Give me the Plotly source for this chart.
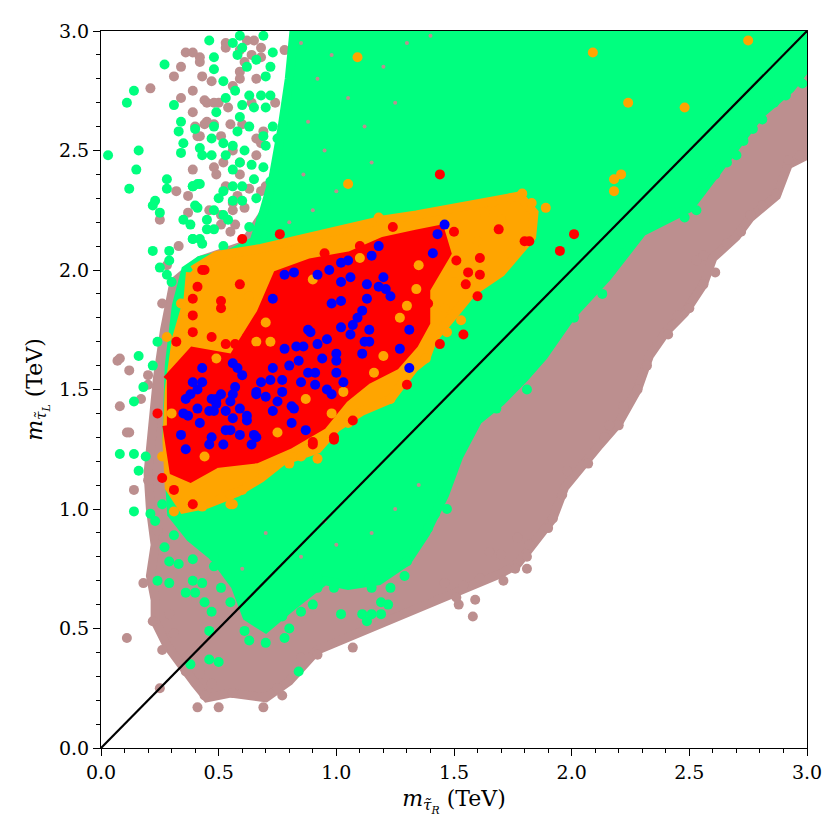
import plotly.graph_objects as go

# colours of the scan categories
BROWN = "#BC8F8F"
GREEN = "#00FF7F"
ORANGE = "#FFA500"
RED = "#FF0000"
BLUE = "#0000FF"

# dense parts of each point cloud, outlined (m_tauR, m_tauL) in TeV
brown_area = [(0.86, 3.0), (3.0, 3.0), (3.0, 2.48), (2.92, 2.44), (2.87, 2.31), (2.76, 2.22),
              (2.70, 2.14), (2.60, 2.05), (2.56, 1.94), (2.48, 1.82), (2.40, 1.74), (2.33, 1.64),
              (2.28, 1.50), (2.20, 1.36), (2.12, 1.27), (2.05, 1.18), (1.97, 1.09), (1.92, 0.96),
              (1.83, 0.84), (1.77, 0.77), (1.70, 0.73), (1.60, 0.69), (1.50, 0.65), (1.35, 0.58),
              (1.20, 0.52), (1.05, 0.46), (0.92, 0.41), (0.80, 0.28), (0.70, 0.21), (0.55, 0.23),
              (0.45, 0.21), (0.40, 0.27), (0.35, 0.34), (0.28, 0.43), (0.23, 0.53), (0.23, 0.62),
              (0.21, 0.72), (0.23, 0.85), (0.21, 1.00), (0.20, 1.15), (0.22, 1.35), (0.24, 1.55),
              (0.27, 1.75), (0.31, 1.95), (0.42, 2.04), (0.60, 2.10), (0.70, 2.25), (0.76, 2.5),
              (0.80, 2.75), (0.86, 3.0)]
green_area = [(0.82, 3.0), (3.0, 3.0), (3.0, 2.85), (2.93, 2.76), (2.80, 2.65), (2.65, 2.46),
              (2.50, 2.26), (2.30, 2.16), (2.15, 1.97), (2.00, 1.81), (1.88, 1.64), (1.80, 1.55),
              (1.70, 1.45), (1.60, 1.37), (1.52, 1.22), (1.46, 1.06), (1.38, 0.90), (1.30, 0.78),
              (1.18, 0.70), (1.05, 0.68), (0.95, 0.70), (0.82, 0.60), (0.70, 0.50), (0.62, 0.55),
              (0.57, 0.68), (0.48, 0.80), (0.38, 0.88), (0.30, 0.98), (0.28, 1.30), (0.29, 1.60),
              (0.32, 1.85), (0.36, 2.00), (0.42, 2.04), (0.55, 2.07), (0.65, 2.12), (0.69, 2.24),
              (0.73, 2.38), (0.77, 2.60), (0.80, 2.80), (0.82, 3.0)]
orange_area = [(0.39, 2.00), (0.49, 2.06), (0.68, 2.09), (0.85, 2.13), (1.00, 2.16), (1.20, 2.21),
               (1.34, 2.23), (1.45, 2.25), (1.62, 2.28), (1.71, 2.30), (1.78, 2.31), (1.84, 2.24),
               (1.83, 2.14), (1.70, 1.99), (1.58, 1.91), (1.48, 1.79), (1.41, 1.71), (1.38, 1.63),
               (1.33, 1.59), (1.23, 1.46), (1.11, 1.41), (1.00, 1.34), (0.92, 1.25), (0.77, 1.20),
               (0.68, 1.13), (0.58, 1.07), (0.45, 1.02), (0.35, 1.00), (0.29, 1.09), (0.28, 1.29),
               (0.29, 1.50), (0.32, 1.71), (0.37, 1.88), (0.38, 1.99)]
red_area = [(0.28, 1.54), (0.39, 1.66), (0.56, 1.63), (0.68, 1.82), (0.75, 1.98), (0.89, 2.03),
            (1.06, 2.06), (1.20, 2.12), (1.34, 2.15), (1.44, 2.17), (1.47, 2.07), (1.42, 1.99),
            (1.38, 1.92), (1.38, 1.78), (1.33, 1.69), (1.25, 1.60), (1.13, 1.54), (1.03, 1.46),
            (0.94, 1.35), (0.80, 1.27), (0.66, 1.21), (0.49, 1.19), (0.38, 1.13), (0.31, 1.16),
            (0.28, 1.35)]

# isolated points around the clouds
brown_pts = [(0.31, 2.81), (0.34, 2.85), (0.21, 2.76), (0.39, 2.75), (0.39, 2.66), (0.36, 2.91),
             (0.42, 2.89), (0.47, 2.79), (0.45, 2.70), (0.50, 2.70), (0.48, 2.61), (0.45, 2.62),
             (0.51, 2.56), (0.42, 2.56), (0.39, 2.42), (0.48, 2.43), (0.32, 2.33), (0.37, 2.31),
             (0.37, 2.24), (0.46, 2.25), (0.25, 2.21), (0.51, 2.23), (0.56, 2.28), (0.31, 1.84),
             (0.26, 1.86), (0.29, 1.75), (0.32, 1.82), (0.31, 1.91), (0.36, 1.87), (0.07, 1.62),
             (0.08, 1.63), (0.12, 1.58), (0.20, 1.56), (0.08, 1.43), (0.17, 1.46), (0.20, 1.52),
             (0.34, 2.72), (0.59, 2.92), (0.53, 2.95), (0.65, 2.96), (0.68, 2.89), (0.59, 2.83),
             (0.56, 2.77), (0.64, 2.70), (0.60, 2.61), (0.69, 2.58), (0.56, 2.50), (0.59, 2.45),
             (0.68, 2.53), (0.68, 2.33), (0.73, 2.36), (0.76, 2.28), (0.77, 2.46),
             (0.39, 2.91), (0.42, 2.87), (0.62, 2.96), (0.53, 2.93), (0.64, 2.90), (0.68, 2.93),
             (0.61, 2.87), (0.43, 2.81), (0.59, 2.80), (0.66, 2.80), (0.44, 2.71), (0.48, 2.70),
             (0.54, 2.68), (0.55, 2.61), (0.40, 2.60), (0.44, 2.61), (0.41, 2.56), (0.66, 2.55),
             (0.52, 2.45), (0.49, 2.40), (0.59, 2.40), (0.66, 2.48), (0.76, 2.46), (0.53, 2.35),
             (0.63, 2.34), (0.70, 2.35), (0.58, 2.31), (0.61, 2.26), (0.56, 2.25), (0.51, 2.19),
             (0.57, 2.19), (0.55, 2.16), (0.62, 2.13), (0.64, 2.08), (0.60, 2.05), (0.80, 2.35),
             (0.80, 2.59), (0.74, 2.70), (0.78, 2.92), (0.75, 2.20), (0.28, 2.02), (0.33, 2.10),
             (0.11, 0.46), (0.11, 1.32), (0.14, 1.08), (0.18, 0.69), (0.25, 0.25), (1.07, 0.42),
             (0.92, 0.39), (0.85, 0.38), (0.77, 0.22), (0.69, 0.17), (0.50, 0.17), (0.41, 0.17),
             (0.44, 0.22), (0.56, 0.23), (0.47, 0.27), (0.75, 0.25), (0.42, 0.31), (0.36, 0.32),
             (0.35, 0.35), (0.42, 0.39), (0.31, 0.48), (0.22, 0.53), (0.26, 0.41), (0.29, 0.56),
             (0.24, 0.91), (0.24, 0.97), (0.23, 1.12), (0.20, 1.12), (0.12, 1.32),
             (1.58, 0.55), (1.52, 0.60), (1.51, 0.63), (1.59, 0.62), (1.54, 0.68), (1.46, 0.69),
             (1.61, 0.71), (1.71, 0.70), (1.81, 0.75), (1.76, 0.75), (1.81, 0.80), (1.82, 0.85),
             (1.90, 0.92), (1.92, 0.96), (1.96, 1.06), (1.98, 1.16), (2.07, 1.19), (2.14, 1.30),
             (2.20, 1.35), (2.16, 1.35), (1.77, 0.88), (1.70, 0.81), (1.65, 0.82),
             (2.97, 2.48), (2.92, 2.46), (2.87, 2.32), (2.81, 2.27), (2.76, 2.23), (2.72, 2.16),
             (2.61, 1.99), (2.56, 1.94), (2.50, 1.84), (2.45, 1.81), (2.41, 1.73), (2.32, 1.60),
             (2.28, 1.50), (2.22, 1.43), (2.66, 2.11), (2.56, 2.06), (2.53, 2.04)]
# brown specks inside the dense green area
brown_specks = [(0.85, 2.95), (0.92, 2.80), (0.88, 2.62), (0.98, 2.90), (1.05, 2.72), (0.95, 2.50),
                (1.12, 2.60), (0.86, 2.40), (1.00, 2.33), (1.20, 2.85), (1.30, 2.95), (0.90, 2.25),
                (1.15, 2.45), (1.25, 2.70), (0.80, 2.20), (1.40, 2.98), (0.70, 0.90), (0.85, 0.80),
                (1.00, 0.85), (1.15, 0.90), (1.25, 1.00), (0.60, 0.75), (1.35, 1.10), (0.95, 0.95)]
green_pts = [(0.03, 2.48), (0.11, 2.70), (0.14, 2.75), (0.27, 2.86), (0.16, 2.50), (0.15, 2.42),
             (0.12, 2.34), (0.28, 2.38), (0.28, 2.34), (0.23, 2.29), (0.22, 2.27), (0.25, 2.24),
             (0.31, 2.69), (0.34, 2.62), (0.33, 2.58), (0.35, 2.53), (0.34, 2.49), (0.39, 2.35),
             (0.42, 2.36), (0.41, 2.26), (0.35, 2.21), (0.38, 2.19), (0.39, 2.13), (0.22, 2.08),
             (0.29, 2.08), (0.29, 2.04), (0.25, 2.01), (0.28, 1.98), (0.30, 1.95),
             (0.59, 2.98), (0.46, 2.96), (0.56, 2.95), (0.60, 2.93), (0.69, 2.98), (0.73, 2.91),
             (0.58, 2.90), (0.48, 2.89), (0.66, 2.88), (0.48, 2.84), (0.62, 2.85), (0.72, 2.85),
             (0.70, 2.81), (0.52, 2.79), (0.57, 2.75), (0.53, 2.72), (0.63, 2.73), (0.68, 2.73),
             (0.72, 2.73), (0.60, 2.69), (0.65, 2.68), (0.70, 2.68), (0.49, 2.66), (0.59, 2.64),
             (0.40, 2.59), (0.48, 2.60), (0.58, 2.58), (0.63, 2.60), (0.73, 2.60), (0.69, 2.56),
             (0.47, 2.55), (0.52, 2.53), (0.42, 2.51), (0.56, 2.52), (0.61, 2.50), (0.70, 2.52),
             (0.75, 2.55), (0.43, 2.48), (0.47, 2.48), (0.53, 2.48), (0.59, 2.45), (0.64, 2.44),
             (0.69, 2.43), (0.56, 2.42), (0.41, 2.36), (0.39, 2.35), (0.52, 2.33), (0.56, 2.35),
             (0.60, 2.35), (0.65, 2.38), (0.72, 2.37), (0.50, 2.30), (0.56, 2.29), (0.60, 2.29),
             (0.66, 2.30), (0.40, 2.27), (0.48, 2.25), (0.52, 2.23), (0.45, 2.21), (0.48, 2.17),
             (0.63, 2.18), (0.68, 2.21), (0.39, 2.13), (0.43, 2.11), (0.52, 2.10), (0.66, 2.13),
             (0.72, 2.12), (0.56, 2.06), (0.62, 2.08), (0.45, 2.17), (0.42, 2.13), (0.54, 2.21),
             (0.16, 1.64), (0.14, 1.45), (0.18, 1.51), (0.22, 1.60), (0.24, 1.70),
             (0.08, 1.23), (0.14, 1.23), (0.19, 1.22), (0.16, 1.16), (0.14, 0.99), (0.21, 0.98),
             (0.23, 0.95), (0.26, 1.02), (0.27, 0.84), (0.31, 0.89), (0.29, 0.78), (0.24, 0.70),
             (0.29, 0.69), (0.33, 0.77), (0.39, 0.79), (0.36, 0.65), (0.40, 0.65), (0.43, 0.69),
             (0.48, 0.76), (0.44, 0.61), (0.47, 0.57), (0.46, 0.49), (0.46, 0.37), (0.50, 0.36),
             (0.38, 0.35), (0.51, 0.67), (0.55, 0.61), (0.63, 0.45), (0.70, 0.44), (0.61, 0.49),
             (0.78, 0.46), (0.80, 0.50), (0.77, 0.55), (0.84, 0.32), (0.85, 0.57), (0.90, 0.60),
             (0.92, 0.67), (0.99, 0.67), (1.02, 0.56), (1.11, 0.56), (1.13, 0.53), (1.15, 0.56),
             (1.19, 0.56), (1.19, 0.61), (1.22, 0.60), (1.15, 0.67), (1.23, 0.67), (1.29, 0.72),
             (1.30, 0.78), (1.07, 0.73), (1.14, 0.71), (1.07, 0.81), (0.92, 0.71), (0.58, 0.80),
             (0.48, 0.80), (0.39, 0.70),
             (2.98, 2.78), (2.95, 2.79), (2.91, 2.73), (2.86, 2.70), (2.80, 2.70), (2.81, 2.63),
             (2.77, 2.59), (2.73, 2.54), (2.70, 2.48), (2.66, 2.45), (2.61, 2.40), (2.56, 2.40),
             (2.55, 2.33), (2.53, 2.25), (2.48, 2.22), (2.43, 2.24), (2.40, 2.23), (2.35, 2.21),
             (2.28, 2.14), (2.21, 2.07), (2.17, 2.00), (2.13, 1.90), (2.09, 1.94), (2.01, 1.80),
             (1.94, 1.75), (1.85, 1.63), (1.81, 1.50), (1.77, 1.54), (1.68, 1.42), (1.51, 1.23),
             (1.47, 1.00), (1.39, 0.92), (1.45, 1.07), (1.42, 0.98)]
orange_pts = [(2.75, 2.96), (2.09, 2.91), (2.24, 2.70), (2.48, 2.68), (2.18, 2.38), (2.21, 2.40),
              (2.18, 2.33), (1.09, 2.89), (1.05, 2.36), (1.18, 2.22), (1.89, 2.26), (1.79, 2.32),
              (0.34, 1.86), (0.28, 1.72), (0.32, 1.61), (0.31, 0.99), (0.55, 1.06), (0.55, 1.02),
              (0.60, 1.08), (0.68, 1.15), (0.85, 1.22), (0.92, 1.21), (0.26, 1.22), (1.53, 1.79),
              (1.47, 1.74), (1.38, 1.63), (1.23, 1.46), (0.69, 1.15), (0.56, 1.02), (1.63, 2.24),
              (1.70, 2.21), (1.66, 2.28), (1.74, 2.30), (1.83, 2.28), (1.60, 2.12), (1.55, 2.02),
              (1.50, 1.95), (1.46, 1.84), (1.05, 1.36), (0.98, 1.30), (0.80, 1.19), (0.43, 1.01)]
# orange points showing through the red core
orange_gaps = [(0.63, 1.89), (0.70, 1.78), (0.56, 1.81), (1.03, 1.49), (0.87, 1.46), (1.20, 1.64),
               (1.30, 1.85), (1.34, 1.92), (0.49, 1.63), (0.39, 1.74), (0.72, 1.70), (0.66, 1.70),
               (1.27, 1.80), (1.35, 2.02), (1.16, 1.57), (0.98, 1.40), (0.75, 1.32), (0.44, 1.22),
               (0.30, 1.40), (1.10, 2.05), (0.90, 1.96)]
red_pts = [(1.44, 2.40), (2.01, 2.15), (1.95, 2.08), (1.69, 2.17), (1.80, 2.12), (1.82, 2.12),
           (1.61, 2.05), (1.56, 1.99), (1.61, 1.98), (1.60, 1.89), (1.54, 1.73), (1.44, 1.69),
           (1.51, 2.04), (0.60, 2.13), (0.76, 2.15), (1.30, 1.52), (1.07, 1.37), (0.99, 1.30),
           (0.90, 1.27), (0.39, 1.02), (0.24, 1.40), (0.31, 1.52), (0.26, 1.13), (0.39, 1.88),
           (0.41, 1.93), (0.51, 1.87), (0.51, 1.84), (0.59, 1.94), (0.53, 1.69), (0.57, 1.69),
           (0.43, 2.00), (1.39, 1.86), (1.55, 1.94), (1.50, 2.16), (0.44, 2.00), (0.39, 1.81),
           (0.32, 1.70), (0.39, 1.74), (0.31, 1.08), (0.99, 1.29), (0.90, 1.28), (0.47, 1.72),
           (0.62, 1.72), (0.45, 1.62), (0.66, 1.66), (1.24, 2.18), (1.10, 2.10), (0.95, 2.07)]
blue_pts = [(1.46, 2.19), (1.43, 2.15), (1.18, 2.10), (1.41, 2.07), (1.15, 2.06), (1.02, 2.03),
            (1.05, 2.04), (0.97, 2.00), (0.92, 1.98), (0.82, 1.99), (0.78, 1.98), (1.06, 1.97),
            (1.02, 1.95), (1.13, 1.94), (1.20, 1.97), (1.18, 1.93), (1.21, 1.92), (1.23, 1.89),
            (1.13, 1.88), (1.02, 1.87), (0.98, 1.86), (0.73, 1.88), (1.11, 1.83), (1.09, 1.80),
            (1.07, 1.77), (1.02, 1.76), (1.14, 1.75), (1.06, 1.73), (0.88, 1.75), (0.89, 1.74),
            (0.96, 1.71), (0.92, 1.69), (1.14, 1.70), (1.12, 1.70), (1.31, 1.75), (1.27, 1.67),
            (0.78, 1.67), (0.83, 1.68), (0.86, 1.68), (1.11, 1.65), (1.00, 1.65), (1.00, 1.62),
            (0.94, 1.63), (0.84, 1.62), (0.80, 1.60), (0.56, 1.61), (0.43, 1.59), (0.58, 1.59),
            (0.60, 1.56), (0.73, 1.59), (0.72, 1.54), (0.77, 1.54), (0.85, 1.53), (0.88, 1.57),
            (0.91, 1.57), (1.00, 1.57), (0.91, 1.52), (0.96, 1.50), (0.98, 1.48), (1.03, 1.53),
            (1.31, 1.59), (0.68, 1.53), (0.66, 1.49), (0.57, 1.51), (0.39, 1.53), (0.43, 1.53),
            (0.41, 1.50), (0.38, 1.48), (0.36, 1.46), (0.51, 1.48), (0.49, 1.46), (0.56, 1.48),
            (0.55, 1.45), (0.47, 1.46), (0.53, 1.41), (0.59, 1.42), (0.48, 1.41), (0.46, 1.41),
            (0.41, 1.42), (0.35, 1.40), (0.37, 1.39), (0.42, 1.36), (0.62, 1.39), (0.62, 1.37),
            (0.66, 1.48), (0.70, 1.47), (0.75, 1.45), (0.73, 1.41), (0.77, 1.49), (0.81, 1.43),
            (0.82, 1.42), (0.81, 1.36), (0.87, 1.33), (0.56, 1.38), (0.53, 1.33), (0.55, 1.33),
            (0.59, 1.31), (0.65, 1.31), (0.66, 1.30), (0.64, 1.27), (0.52, 1.27), (0.47, 1.30),
            (0.46, 1.27), (0.34, 1.31), (0.36, 1.25), (0.49, 1.44)]

FONT = "DejaVu Serif"
MSIZE = 10

fig = go.Figure()


def add_area(pts, color):
    fig.add_trace(go.Scatter(x=[p[0] for p in pts], y=[p[1] for p in pts], mode="lines",
                             fill="toself", fillcolor=color, line=dict(color=color, width=9),
                             hoverinfo="skip", showlegend=False))


def add_points(pts, color, size=MSIZE):
    fig.add_trace(go.Scatter(x=[p[0] for p in pts], y=[p[1] for p in pts], mode="markers",
                             marker=dict(color=color, size=size, line=dict(width=0)),
                             showlegend=False))


add_area(brown_area, BROWN)
add_points(brown_pts, BROWN)
add_area(green_area, GREEN)
add_points(brown_specks, BROWN, 4)
add_points(green_pts, GREEN)
add_area(orange_area, ORANGE)
add_points(orange_pts, ORANGE)
add_area(red_area, RED)
add_points(orange_gaps, ORANGE)
add_points(red_pts, RED)
add_points(blue_pts, BLUE)

# m_tauL = m_tauR line
fig.add_trace(go.Scatter(x=[0, 3], y=[0, 3], mode="lines", line=dict(color="black", width=2.2),
                         showlegend=False))

axis_common = dict(
    range=[0, 3], dtick=0.5, tickformat=".1f", showgrid=False, zeroline=False,
    showline=True, linecolor="black", linewidth=1.2, mirror=True,
    ticks="outside", ticklen=7, tickwidth=1, tickcolor="black",
    minor=dict(dtick=0.1, ticks="outside", ticklen=4, tickwidth=0.8, tickcolor="black"),
    tickfont=dict(family=FONT, size=19, color="black"),
)

# the page body has an 8px margin, so the margins are shifted by that amount
fig.update_layout(
    width=840, height=840,
    margin=dict(l=93, r=41, t=17, b=100),
    font=dict(family=FONT, color="black"),
    plot_bgcolor="white", paper_bgcolor="white",
    xaxis=dict(axis_common,
               title=dict(text="<i>m</i><sub><i>τ̃</i><sub><i>R</i></sub></sub> (TeV)",
                          font=dict(family=FONT, size=22, color="black"), standoff=8)),
    yaxis=dict(axis_common,
               title=dict(text="<i>m</i><sub><i>τ̃</i><sub><i>L</i></sub></sub> (TeV)",
                          font=dict(family=FONT, size=22, color="black"), standoff=10)),
)

fig.write_html("out.html")
